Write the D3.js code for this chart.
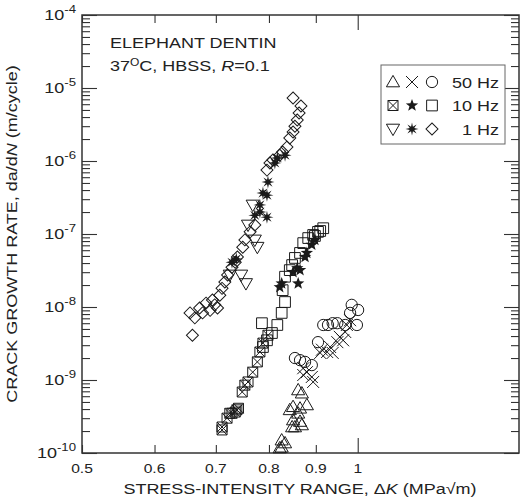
<!DOCTYPE html>
<html>
<head>
<meta charset="utf-8">
<script src="https://cdn.jsdelivr.net/npm/d3@7"></script>
<style>
body{margin:0;background:#fff}
text{font-family:"Liberation Sans",Arial,sans-serif;fill:#222}
</style>
</head>
<body>
<svg id="chart" width="520" height="504"></svg>
<script>
// 50 Hz
const tri50 = [[0.861,7.3e-10],[0.869,6.6e-10],[0.880,4.55e-10],[0.850,4.3e-10],[0.843,3.9e-10],[0.861,3.5e-10],
  [0.865,4.1e-10],[0.850,2.83e-10],[0.865,2.7e-10],[0.869,2.42e-10],[0.854,2.27e-10],[0.848,2.27e-10],
  [0.833,1.37e-10],[0.826,1.5e-10],[0.826,1.2e-10],[0.822,1.17e-10]];
const cross50 = [[0.973,5.67e-9],[0.981,6.6e-9],[0.969,4.55e-9],[0.956,3.9e-9],[0.950,3.3e-9],[0.964,3.5e-9],
  [0.933,2.83e-9],[0.914,2.6e-9],[0.926,2.42e-9],[0.910,2.35e-9],[0.939,2.35e-9],[0.872,1.45e-9],
  [0.880,1.28e-9],[0.891,1.1e-9],[0.872,1.17e-9],[0.894,9.4e-10]];
const circ50 = [[0.985,1.07e-8],[1.001,9.1e-9],[0.981,8.3e-9],[0.998,5.67e-9],[0.917,5.67e-9],[0.928,5.67e-9],
  [0.939,6.0e-9],[0.950,6.0e-9],[0.969,5.67e-9],[0.905,3.3e-9],[0.854,2.0e-9],[0.865,1.87e-9],
  [0.876,1.77e-9],[0.891,1.6e-9]];
// 10 Hz
const xsq10 = [[0.798,4.1e-9],[0.788,3.2e-9],[0.782,2.42e-9],[0.777,1.77e-9],[0.768,1.28e-9],[0.759,9.4e-10],
  [0.753,8.5e-10],[0.748,6.85e-10],[0.738,3.9e-10],[0.729,3.5e-10],[0.720,3.0e-10],[0.711,2.27e-10],
  [0.711,2.07e-10],[0.725,3.5e-10],[0.735,3.64e-10],[0.741,4.1e-10]];
const star10 = [[0.898,8.3e-8],[0.891,7.1e-8],[0.880,5.5e-8],[0.876,4.85e-8],[0.859,3.4e-8],[0.850,3.0e-8],
  [0.826,2.1e-8],[0.822,1.87e-8],[0.861,2.1e-8],[0.865,3.2e-8]];
const sq10 = [[0.917,1.2e-7],[0.905,1.07e-7],[0.894,9.7e-8],[0.883,8.8e-8],[0.872,7.5e-8],[0.865,5.5e-8],
  [0.854,4.7e-8],[0.848,3.75e-8],[0.843,3.2e-8],[0.833,2.6e-8],[0.828,1.7e-8],[0.833,1.17e-8],
  [0.826,8.3e-9],[0.817,5.67e-9],[0.806,4.4e-9],[0.796,3.5e-9],[0.788,2.83e-9],[0.786,6.0e-9],
  [0.910,1.1e-7],[0.898,9.4e-8]];
// 1 Hz
const tri1 = [[0.768,2.5e-7],[0.777,6.6e-8],[0.746,2.75e-8],[0.755,2.1e-8],[0.725,2.75e-8],[0.759,1.33e-7],
  [0.772,8.3e-8]];
const ast1 = [[0.833,1.2e-6],[0.812,9.4e-7],[0.817,1.1e-6],[0.798,5.15e-7],[0.788,3.64e-7],[0.796,3.4e-7],
  [0.782,2.0e-7],[0.772,1.8e-7],[0.796,1.7e-7],[0.782,2.5e-7],[0.737,4.55e-8],[0.729,4.1e-8]];
const dia1 = [[0.850,7.3e-6],[0.867,5.67e-6],[0.863,4.55e-6],[0.859,3.64e-6],[0.854,3.0e-6],[0.850,2.5e-6],
  [0.843,2.07e-6],[0.837,1.55e-6],[0.828,1.33e-6],[0.822,1.2e-6],[0.808,1.03e-6],[0.802,9.4e-7],
  [0.796,7.5e-7],[0.772,1.33e-7],[0.763,1.07e-7],[0.753,8.3e-8],[0.749,6.6e-8],[0.739,4.85e-8],
  [0.735,4.1e-8],[0.729,3.5e-8],[0.721,2.75e-8],[0.716,2.2e-8],[0.711,1.8e-8],[0.707,1.45e-8],
  [0.694,1.25e-8],[0.683,1.13e-8],[0.672,9.7e-9],[0.677,8.3e-9],[0.656,8.3e-9],[0.664,7.1e-9],
  [0.660,4.1e-9],[0.703,9.7e-9],[0.690,9.0e-9],[0.698,1.07e-8]];

const xTicks = [0.5,0.6,0.7,0.8,0.9,1];
const yExps = [-10,-9,-8,-7,-6,-5,-4];
const legendRows = ["50 Hz","10 Hz","1 Hz"];

const svg = d3.select("#chart");
const L = 82, R = 519, T = 15, B = 453;
const x = d3.scaleLog().domain([0.5,1.5]).range([L,R]);
const y = d3.scaleLog().domain([1e-10,1e-4]).range([B,T]);
const WIDE = 1.2; // the figure's lettering is wider than Liberation Sans

// axes ticks (inward on all sides)
const majorY = yExps.map(e => Math.pow(10,e));
const minorY = [];
yExps.slice(0,-1).forEach(e => { for(let k=2;k<10;k++) minorY.push(k*Math.pow(10,e)); });

function tickAxis(axis, tf, vals, size){
  const g = svg.append("g").attr("transform",tf)
    .call(axis.tickValues(vals).tickSize(-size).tickFormat(""));
  g.select(".domain").remove();
  g.selectAll("line").attr("stroke","#333").attr("stroke-width",1.1);
}
tickAxis(d3.axisLeft(y), `translate(${L},0)`, minorY, 8);
tickAxis(d3.axisLeft(y), `translate(${L},0)`, majorY, 15);
tickAxis(d3.axisRight(y), `translate(${R},0)`, minorY, 8);
tickAxis(d3.axisRight(y), `translate(${R},0)`, majorY, 15);
tickAxis(d3.axisBottom(x), `translate(0,${B})`, xTicks.slice(0,-1), 8);
tickAxis(d3.axisBottom(x), `translate(0,${B})`, [1], 15);
tickAxis(d3.axisTop(x), `translate(0,${T})`, xTicks.slice(0,-1), 8);
tickAxis(d3.axisTop(x), `translate(0,${T})`, [1], 15);

svg.append("rect").attr("x",L).attr("y",T).attr("width",R-L).attr("height",B-T)
  .attr("fill","none").attr("stroke","#333").attr("stroke-width",1.5);

function label(px, py, anchor, size, rot){
  return svg.append("text")
    .attr("transform",`translate(${px},${py})${rot ? " rotate("+rot+")" : ""} scale(${WIDE},1)`)
    .attr("text-anchor",anchor).attr("font-size",size);
}

// tick labels
xTicks.forEach(d => label(x(d),473,"middle",13).text(d));
yExps.forEach(e => {
  const t = label(76, y(Math.pow(10,e))+5, "end", 15);
  t.append("tspan").text("10");
  t.append("tspan").attr("dy",-7).attr("font-size",11).text(e);
});

// axis titles
const xt = label(300,494,"middle",15);
xt.append("tspan").text("STRESS-INTENSITY RANGE, \u0394");
xt.append("tspan").attr("font-style","italic").text("K");
xt.append("tspan").text(" (MPa\u221Am)");

const yt = label(17,(T+B)/2,"middle",15,-90);
yt.append("tspan").text("CRACK GROWTH RATE, da/d");
yt.append("tspan").attr("font-style","italic").text("N");
yt.append("tspan").text(" (m/cycle)");

// annotation
label(110,48,"start",15).text("ELEPHANT DENTIN");
const an = label(110,71,"start",15);
an.append("tspan").text("37");
an.append("tspan").attr("dy",-5).attr("font-size",10).text("O");
an.append("tspan").attr("dy",5).text("C, HBSS, ");
an.append("tspan").attr("font-style","italic").text("R");
an.append("tspan").text("=0.1");

// marker shapes
const ink = "#1a1a1a";
function star(n, ro, ri){
  let p = [];
  for(let i=0;i<2*n;i++){
    const a = Math.PI*i/n - Math.PI/2, r = i%2 ? ri : ro;
    p.push([r*Math.cos(a), r*Math.sin(a)]);
  }
  return "M" + p.map(q=>q[0].toFixed(2)+","+q[1].toFixed(2)).join("L") + "Z";
}
const shapes = {
  triUp: g => g.append("path").attr("d",d3.symbol(d3.symbolTriangle,75)()).attr("transform","translate(0,1)").attr("fill","none").attr("stroke",ink),
  triDown: g => g.append("path").attr("d",d3.symbol(d3.symbolTriangle,75)()).attr("transform","translate(0,-1) rotate(180)").attr("fill","none").attr("stroke",ink),
  cross: g => g.append("path").attr("d","M-6,-6L6,6M-6,6L6,-6").attr("fill","none").attr("stroke",ink),
  circle: g => g.append("path").attr("d",d3.symbol(d3.symbolCircle,100)()).attr("fill","none").attr("stroke",ink),
  xsquare: g => g.append("path").attr("d","M-5,-5H5V5H-5Z M-5,-5L5,5M-5,5L5,-5").attr("fill","none").attr("stroke",ink),
  star: g => g.append("path").attr("d",star(5,6.5,2.7)).attr("fill",ink).attr("stroke","none"),
  square: g => g.append("path").attr("d",d3.symbol(d3.symbolSquare,115)()).attr("fill","none").attr("stroke",ink),
  asterisk: g => g.append("path").attr("d",star(8,6.5,2.4)).attr("fill",ink).attr("stroke","none"),
  diamond: g => g.append("path").attr("d",d3.symbol(d3.symbolSquare,72)()).attr("transform","rotate(45)").attr("fill","none").attr("stroke",ink)
};

const series = [
  [tri50,"triUp"],[cross50,"cross"],[circ50,"circle"],
  [xsq10,"xsquare"],[sq10,"square"],[star10,"star"],
  [tri1,"triDown"],[dia1,"diamond"],[ast1,"asterisk"]
];
const plot = svg.append("g");
series.forEach(([data,shape]) => {
  plot.append("g").selectAll("g").data(data).join("g")
    .attr("transform",d=>`translate(${x(d[0])},${y(d[1])})`)
    .each(function(){ shapes[shape](d3.select(this)); });
});

// legend
svg.append("rect").attr("x",381).attr("y",65).attr("width",124).attr("height",79)
  .attr("fill","#fff").attr("stroke","#666").attr("stroke-width",1);
const legShapes = [["triUp","cross","circle"],["xsquare","star","square"],["triDown","asterisk","diamond"]];
const legX = [393,412,432];
legendRows.forEach((lab,i) => {
  const ry = 82 + i*23.5;
  legShapes[i].forEach((s,j) => shapes[s](svg.append("g").attr("transform",`translate(${legX[j]},${ry})`)));
  label(499,ry+5.5,"end",15).text(lab);
});
</script>
</body>
</html>
